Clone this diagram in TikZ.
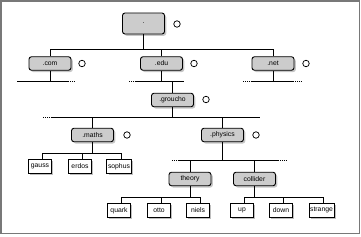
\documentclass[tikz,border=0pt]{standalone}
\usepackage{fontspec}
\setsansfont{Liberation Sans}
\usetikzlibrary{shadows}
\definecolor{zgray}{RGB}{204,204,204}
\definecolor{fgray}{RGB}{120,120,120}
\tikzset{
  dnstree/.style={x=1pt,y=-1pt,line width=0.9pt,font=\sffamily\fontsize{6.8}{7}\selectfont},
  zone/.style={draw,fill=zgray,rounded corners=2.5pt,minimum width=42pt,minimum height=13.5pt,inner sep=0pt,
    drop shadow={shadow xshift=1.8pt,shadow yshift=-1.8pt,opacity=0.45}},
  host/.style={draw,fill=white,minimum width=23pt,minimum height=14pt,inner xsep=1.2pt,inner ysep=0pt,
    drop shadow={shadow xshift=1.8pt,shadow yshift=-1.8pt,opacity=0.5}},
  ns/.style={draw,circle,minimum size=6.5pt,inner sep=0pt,line width=0.75pt},
  trail/.style={dash pattern=on 0.8pt off 1.1pt}
}

\begin{document}
\begin{tikzpicture}[dnstree]
    \useasboundingbox (0,0) rectangle (361,237);
    \draw[fgray,line width=1.3pt] (1,1) rectangle (359.5,233.5);

    % zones
    \node[zone,minimum height=21pt] (root) at (143.5,23.5) {.};
    \node[zone] (com) at (50,63.5) {.com};
    \node[zone] (edu) at (161.5,63.5) {.edu};
    \node[zone] (net) at (273,63.5) {.net};
    \node[zone] (groucho) at (172.5,100) {.groucho};
    \node[zone] (maths) at (92.5,135) {.maths};
    \node[zone] (physics) at (222.5,135) {.physics};
    \node[zone] (theory) at (190,179) {theory};
    \node[zone] (collider) at (254.5,179) {collider};

    % name servers
    \node[ns] (nsroot) at (177,24) {};
    \node[ns] (nscom) at (82,63.5) {};
    \node[ns] (nsedu) at (194,63.5) {};
    \node[ns] (nsnet) at (306,63.5) {};
    \node[ns] (nsgroucho) at (206,99.5) {};
    \node[ns] (nsmaths) at (127,135) {};
    \node[ns] (nsphysics) at (256,135) {};

    % hosts
    \node[host] (gauss) at (40,166.5) {gauss};
    \node[host] (erdos) at (80,166.5) {erdos};
    \node[host] (sophus) at (119,166.5) {sophus};
    \node[host] (quark) at (119,210.5) {quark};
    \node[host] (otto) at (159,210.5) {otto};
    \node[host] (niels) at (198,210.5) {niels};
    \node[host] (up) at (242,210.5) {up};
    \node[host] (down) at (281,210.5) {down};
    \node[host] (strange) at (321.5,210.5) {strange};

    % buses
    \coordinate (rb) at (143.5,49);
    \coordinate (cbl) at (17,81);   \coordinate (cbr) at (68,81);   \coordinate (cbe) at (75,81);
    \coordinate (ebs) at (129,81);  \coordinate (ebl) at (135,81);  \coordinate (ebr) at (184,81);
    \coordinate (nbs) at (243,81);  \coordinate (nbl) at (252,81);  \coordinate (nbr) at (293,81);  \coordinate (nbe) at (302,81);
    \coordinate (gbs) at (43,117);  \coordinate (gbl) at (52,117);  \coordinate (gbr) at (260,117);
    \coordinate (mb) at (92.5,153);
    \coordinate (pbs) at (172,160.7); \coordinate (pbl) at (178,160.7); \coordinate (pbr) at (278,160.7); \coordinate (pbe) at (287,160.7);
    \coordinate (tb) at (190,197);
    \coordinate (kb) at (254.5,197);

    \draw (root) -- (rb);
    \draw (com |- rb) -- (net |- rb);
    \foreach \z in {com,edu,net} \draw (\z) -- (\z |- rb);

    \draw (com) -- (com |- cbl);
    \draw (cbl) -- (cbr);
    \draw[trail] (cbr) -- (cbe);
    \draw (edu) -- (edu |- ebl);
    \draw[trail] (ebs) -- (ebl);
    \draw (ebl) -- (ebr);
    \draw (groucho) -- (groucho |- ebl);
    \draw (net) -- (net |- nbl);
    \draw[trail] (nbs) -- (nbl);
    \draw (nbl) -- (nbr);
    \draw[trail] (nbr) -- (nbe);

    \draw (groucho) -- (groucho |- gbl);
    \draw[trail] (gbs) -- (gbl);
    \draw (gbl) -- (gbr);
    \draw (maths) -- (maths |- gbl);
    \draw (physics) -- (physics |- gbl);

    \draw (maths) -- (mb);
    \draw ([xshift=2.7pt]gauss.north |- mb) -- ([xshift=2.7pt]sophus.north |- mb);
    \foreach \h in {gauss,erdos,sophus} \draw ([xshift=2.7pt]\h.north) -- ([xshift=2.7pt]\h.north |- mb);

    \draw (physics) -- (physics |- pbl);
    \draw[trail] (pbs) -- (pbl);
    \draw (pbl) -- (pbr);
    \draw[trail] (pbr) -- (pbe);
    \draw (theory) -- (theory |- pbl);
    \draw (collider) -- (collider |- pbl);

    \draw (theory) -- (tb);
    \draw ([xshift=2.7pt]quark.north |- tb) -- ([xshift=2.7pt]niels.north |- tb);
    \foreach \h in {quark,otto,niels} \draw ([xshift=2.7pt]\h.north) -- ([xshift=2.7pt]\h.north |- tb);
    \draw (collider) -- (kb);
    \draw ([xshift=2.7pt]up.north |- kb) -- ([xshift=1.8pt]strange.north |- kb);
    \foreach \h in {up,down} \draw ([xshift=2.7pt]\h.north) -- ([xshift=2.7pt]\h.north |- kb);
    \draw ([xshift=1.8pt]strange.north) -- ([xshift=1.8pt]strange.north |- kb);
\end{tikzpicture}
\end{document}
